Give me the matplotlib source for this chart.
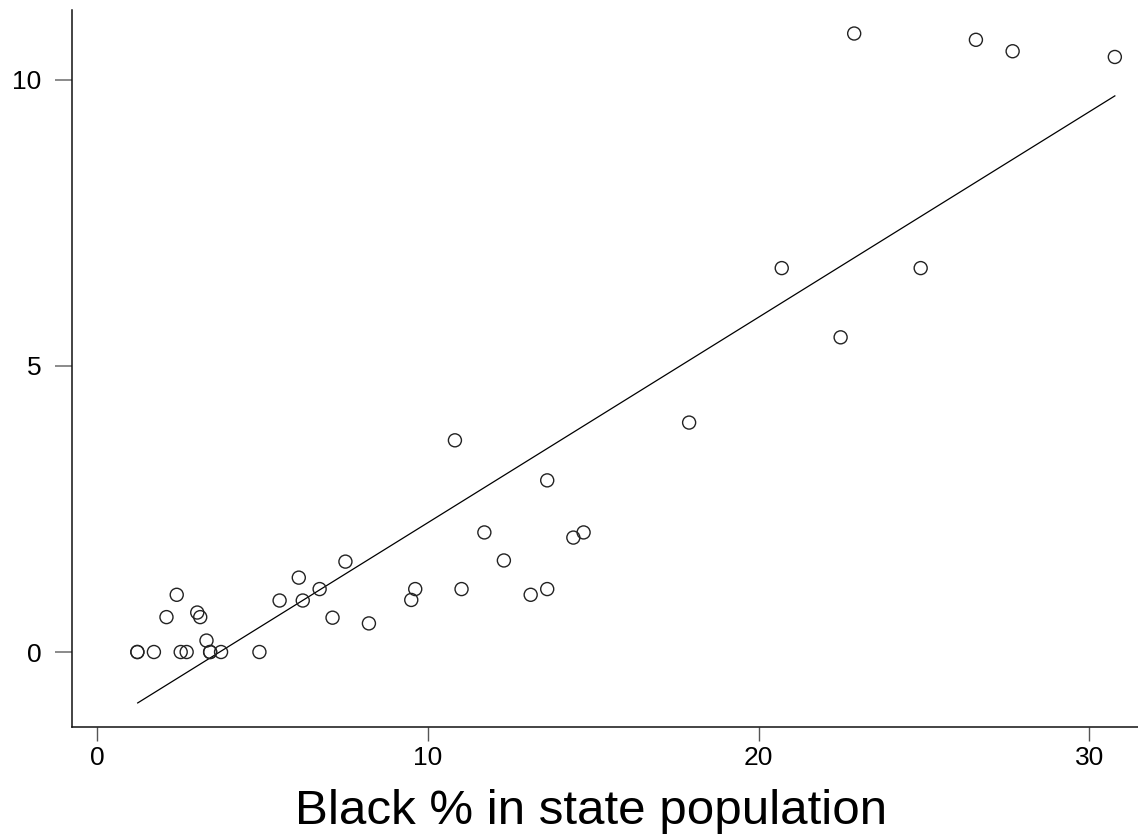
import numpy as np
import matplotlib.pyplot as plt

plt.rcParams['font.family'] = ['Liberation Sans', 'DejaVu Sans']

# black share of state population (%) and the y value of each state
black_pct = [1.22, 1.22, 1.72, 2.10, 2.41, 2.53, 2.71, 3.03, 3.12, 3.31,
             3.42, 3.42, 3.75, 4.91, 5.52, 6.10, 6.22, 6.73, 7.12, 7.51,
             8.22, 9.50, 9.62, 10.82, 11.02, 11.71, 12.30, 13.11, 13.61, 13.61,
             14.40, 14.71, 17.90, 20.70, 22.48, 22.89, 24.90, 26.57, 27.68, 30.77]
yvals = [0, 0, 0, 0.61, 1.0, 0, 0, 0.69, 0.61, 0.2,
         0, 0, 0, 0, 0.9, 1.30, 0.90, 1.10, 0.6, 1.58,
         0.5, 0.91, 1.10, 3.70, 1.10, 2.09, 1.60, 1.0, 3.0, 1.10,
         2.0, 2.09, 4.01, 6.71, 5.5, 10.81, 6.71, 10.70, 10.50, 10.40]

# fitted line end points
fit_x = [1.23, 30.77]
fit_y = [-0.89, 9.72]

fig = plt.figure(figsize=(11.38, 8.38), dpi=100)
ax = fig.add_axes([0.0633, 0.1325, 0.9367, 0.8555])

ax.scatter(black_pct, yvals, s=88, facecolors='none', edgecolors='#222222',
           linewidths=1.0, zorder=3)
ax.plot(fit_x, fit_y, color='black', linewidth=0.9)

ax.set_xlim(-0.755, 31.47)
ax.set_ylim(-1.31, 11.22)
ax.set_xticks([0, 10, 20, 30])
ax.set_yticks([0, 5, 10])

for s in ['top', 'right']:
    ax.spines[s].set_visible(False)
for s in ['left', 'bottom']:
    ax.spines[s].set_linewidth(1.1)
    ax.spines[s].set_color('#111111')

ax.tick_params(axis='y', length=12, width=1.2, color='#777777', pad=10,
               labelsize=19)
ax.tick_params(axis='x', length=10, width=1.0, color='#555555', pad=4,
               labelsize=19)

ax.set_xlabel('Black % in state population', fontsize=35.5)
ax.xaxis.set_label_coords(0.487, -0.087)

fig.savefig('out.png', dpi=100)
